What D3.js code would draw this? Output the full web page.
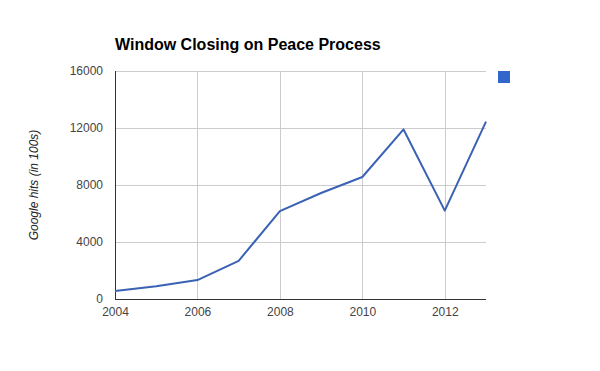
<!DOCTYPE html>
<html>
<head>
<meta charset="utf-8">
<script src="https://cdn.jsdelivr.net/npm/d3@7"></script>
<style>
  body { margin: 0; background: #fff; }
  text { font-family: "Liberation Sans", Arial, sans-serif; }
</style>
</head>
<body>
<svg width="600" height="371"></svg>
<script>
"use strict";

const years = [2004, 2005, 2006, 2007, 2008, 2009, 2010, 2011, 2012, 2013]
const hits = [560, 900, 1330, 2680, 6170, 7440, 8560, 11900, 6200, 12450]
const yTicks = [0, 4000, 8000, 12000, 16000]
const xTicks = [2004, 2006, 2008, 2010, 2012]

const svg = d3.select("svg")
const plotL = 115, plotR = 486, plotT = 71, plotB = 299

const x = d3.scaleLinear().domain([2004, 2013]).range([plotL, plotR])
const y = d3.scaleLinear().domain([0, 16000]).range([plotB, plotT])

// grid
svg.append("g")
	.selectAll("line")
	.data(yTicks.slice(1))
	.join("line")
	.attr("x1", plotL).attr("x2", plotR)
	.attr("y1", d => y(d) + 0.5).attr("y2", d => y(d) + 0.5)
	.attr("stroke", "#cccccc")

svg.append("g")
	.selectAll("line")
	.data(xTicks.slice(1))
	.join("line")
	.attr("x1", d => Math.round(x(d)) + 0.5).attr("x2", d => Math.round(x(d)) + 0.5)
	.attr("y1", plotT).attr("y2", plotB)
	.attr("stroke", "#cccccc")

// axes
const yAxis = svg.append("g")
	.attr("transform", `translate(${plotL},0)`)
	.call(d3.axisLeft(y).tickValues(yTicks).tickSize(0).tickPadding(12).tickFormat(d3.format("d")))
yAxis.select(".domain").remove()
yAxis.selectAll("text").attr("font-size", 12).attr("fill", "#444")

const xAxis = svg.append("g")
	.attr("transform", `translate(0,${plotB})`)
	.call(d3.axisBottom(x).tickValues(xTicks).tickSize(0).tickPadding(8).tickFormat(d3.format("d")))
xAxis.select(".domain").remove()
xAxis.selectAll("text").attr("font-size", 12).attr("fill", "#444")

svg.append("line")
	.attr("x1", plotL + 0.5).attr("x2", plotL + 0.5)
	.attr("y1", plotT).attr("y2", plotB)
	.attr("stroke", "#333")
svg.append("line")
	.attr("x1", plotL).attr("x2", plotR)
	.attr("y1", plotB + 0.5).attr("y2", plotB + 0.5)
	.attr("stroke", "#333")

// line
const line = d3.line().x((d, i) => x(years[i])).y(d => y(d))
svg.append("path")
	.datum(hits)
	.attr("fill", "none")
	.attr("stroke", "#3a62b4")
	.attr("stroke-width", 2)
	.attr("stroke-linejoin", "round")
	.attr("d", line)

// title
svg.append("text")
	.attr("x", plotL).attr("y", 50)
	.attr("font-size", 16).attr("font-weight", "bold")
	.attr("fill", "#000")
	.text("Window Closing on Peace Process")

// y label
svg.append("text")
	.attr("transform", `translate(38,${(plotT + plotB) / 2}) rotate(-90)`)
	.attr("text-anchor", "middle")
	.attr("font-size", 12).attr("font-style", "italic")
	.attr("fill", "#222")
	.text("Google hits (in 100s)")

// legend swatch
svg.append("rect")
	.attr("x", 498).attr("y", 71)
	.attr("width", 12).attr("height", 12)
	.attr("fill", "#3366cc")
</script>
</body>
</html>
